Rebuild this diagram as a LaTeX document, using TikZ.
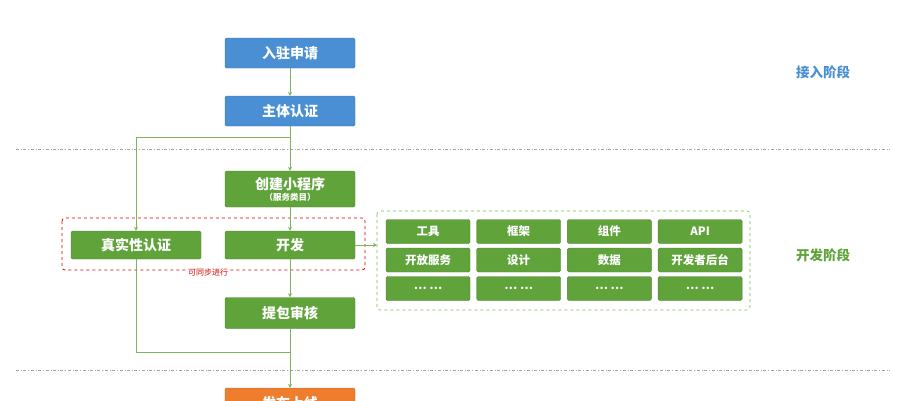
\documentclass[tikz,border=0pt]{standalone}
\usepackage{fontspec}
\setmainfont{Noto Sans CJK SC}
\usetikzlibrary{arrows.meta}
\definecolor{gbox}{HTML}{5FA33A}
\definecolor{gline}{HTML}{7DB65A}
\definecolor{bbox}{HTML}{4A8FD3}
\definecolor{obox}{HTML}{EE7D2E}
\tikzset{
 box/.style={draw=gbox!80!black, line width=0.4pt, fill=gbox, rounded corners=1.5pt, text=white, font=\bfseries\fontsize{14}{15}\selectfont, minimum width=130pt, minimum height=30pt, inner sep=0pt},
 bluebox/.style={box, fill=bbox, draw=bbox!80!black},
 orbox/.style={box, fill=obox, draw=obox!80!black},
 cell/.style={box, minimum height=24pt, font=\bfseries\fontsize{11.5}{12}\selectfont},
 conn/.style={draw=gline, line width=1pt},
 arr/.style={conn, -{Stealth[length=4pt,width=4pt]}},
 phase/.style={draw=gray!70, dash dot, line width=0.6pt},
}
\begin{document}
\begin{tikzpicture}[x=1pt,y=-1pt]
\useasboundingbox (0,0) rectangle (911,400);
\node[bluebox] (a) at (290,53) {入驻申请};
\node[bluebox] (b) at (290,111) {主体认证};
\node[box, minimum height=36pt, align=center] (c) at (290,189) {创建小程序\\[-4pt]{\fontsize{8.5}{9}\selectfont （服务类目）}};
\node[box, minimum height=28pt] (d) at (290,245) {开发};
\node[box, minimum height=28pt] (e) at (136,245) {真实性认证};
\node[box, minimum height=31pt] (f) at (290,313) {提包审核};
\node[orbox] (g) at (290,403) {发布上线};
\draw[phase] (16,149) -- (890,149);
\draw[phase] (16,370) -- (890,370);
\node[font=\bfseries\fontsize{13.5}{14}\selectfont, text=bbox] (p1) at (823,72) {接入阶段};
\node[font=\bfseries\fontsize{13.5}{14}\selectfont, text=gbox] (p2) at (823,255) {开发阶段};
\draw[red!85!black, dashed, line width=0.8pt, rounded corners=3pt] (62,218) rectangle (365,270);
\node[text=red!85!black, font=\fontsize{8}{9}\selectfont, fill=white, inner sep=1pt] (sync) at (208,272) {可同步进行};
\draw[gline, dashed, line width=0.6pt, rounded corners=3pt] (377,211) rectangle (750,310);
\coordinate (bx) at (377,245);
\foreach \t [count=\i] in {工具,框架,组件,API,开放服务,设计,数据,开发者后台,{… …},{… …},{… …},{… …}}{
 \pgfmathtruncatemacro\col{mod(\i-1,4)}
 \pgfmathtruncatemacro\row{div(\i-1,4)}
 \pgfmathsetmacro\cx{428+\col*90.7}
 \pgfmathsetmacro\cy{231.5+\row*28.5}
 \node[cell, minimum width=84pt] (cell\i) at (\cx,\cy) {\t};
}
\draw[arr] (a) -- (b);
\draw[arr] (b) -- (c);
\draw[arr] (c) -- (d);
\draw[arr] (d) -- (f);
\draw[arr] (f) -- (g);
\coordinate (j1) at (290,137);
\coordinate (j2) at (290,352);
\draw[arr] (j1) -| (e);
\draw[conn] (e) |- (j2);
\draw[arr] (d) -- (bx);
\end{tikzpicture}
\end{document}
